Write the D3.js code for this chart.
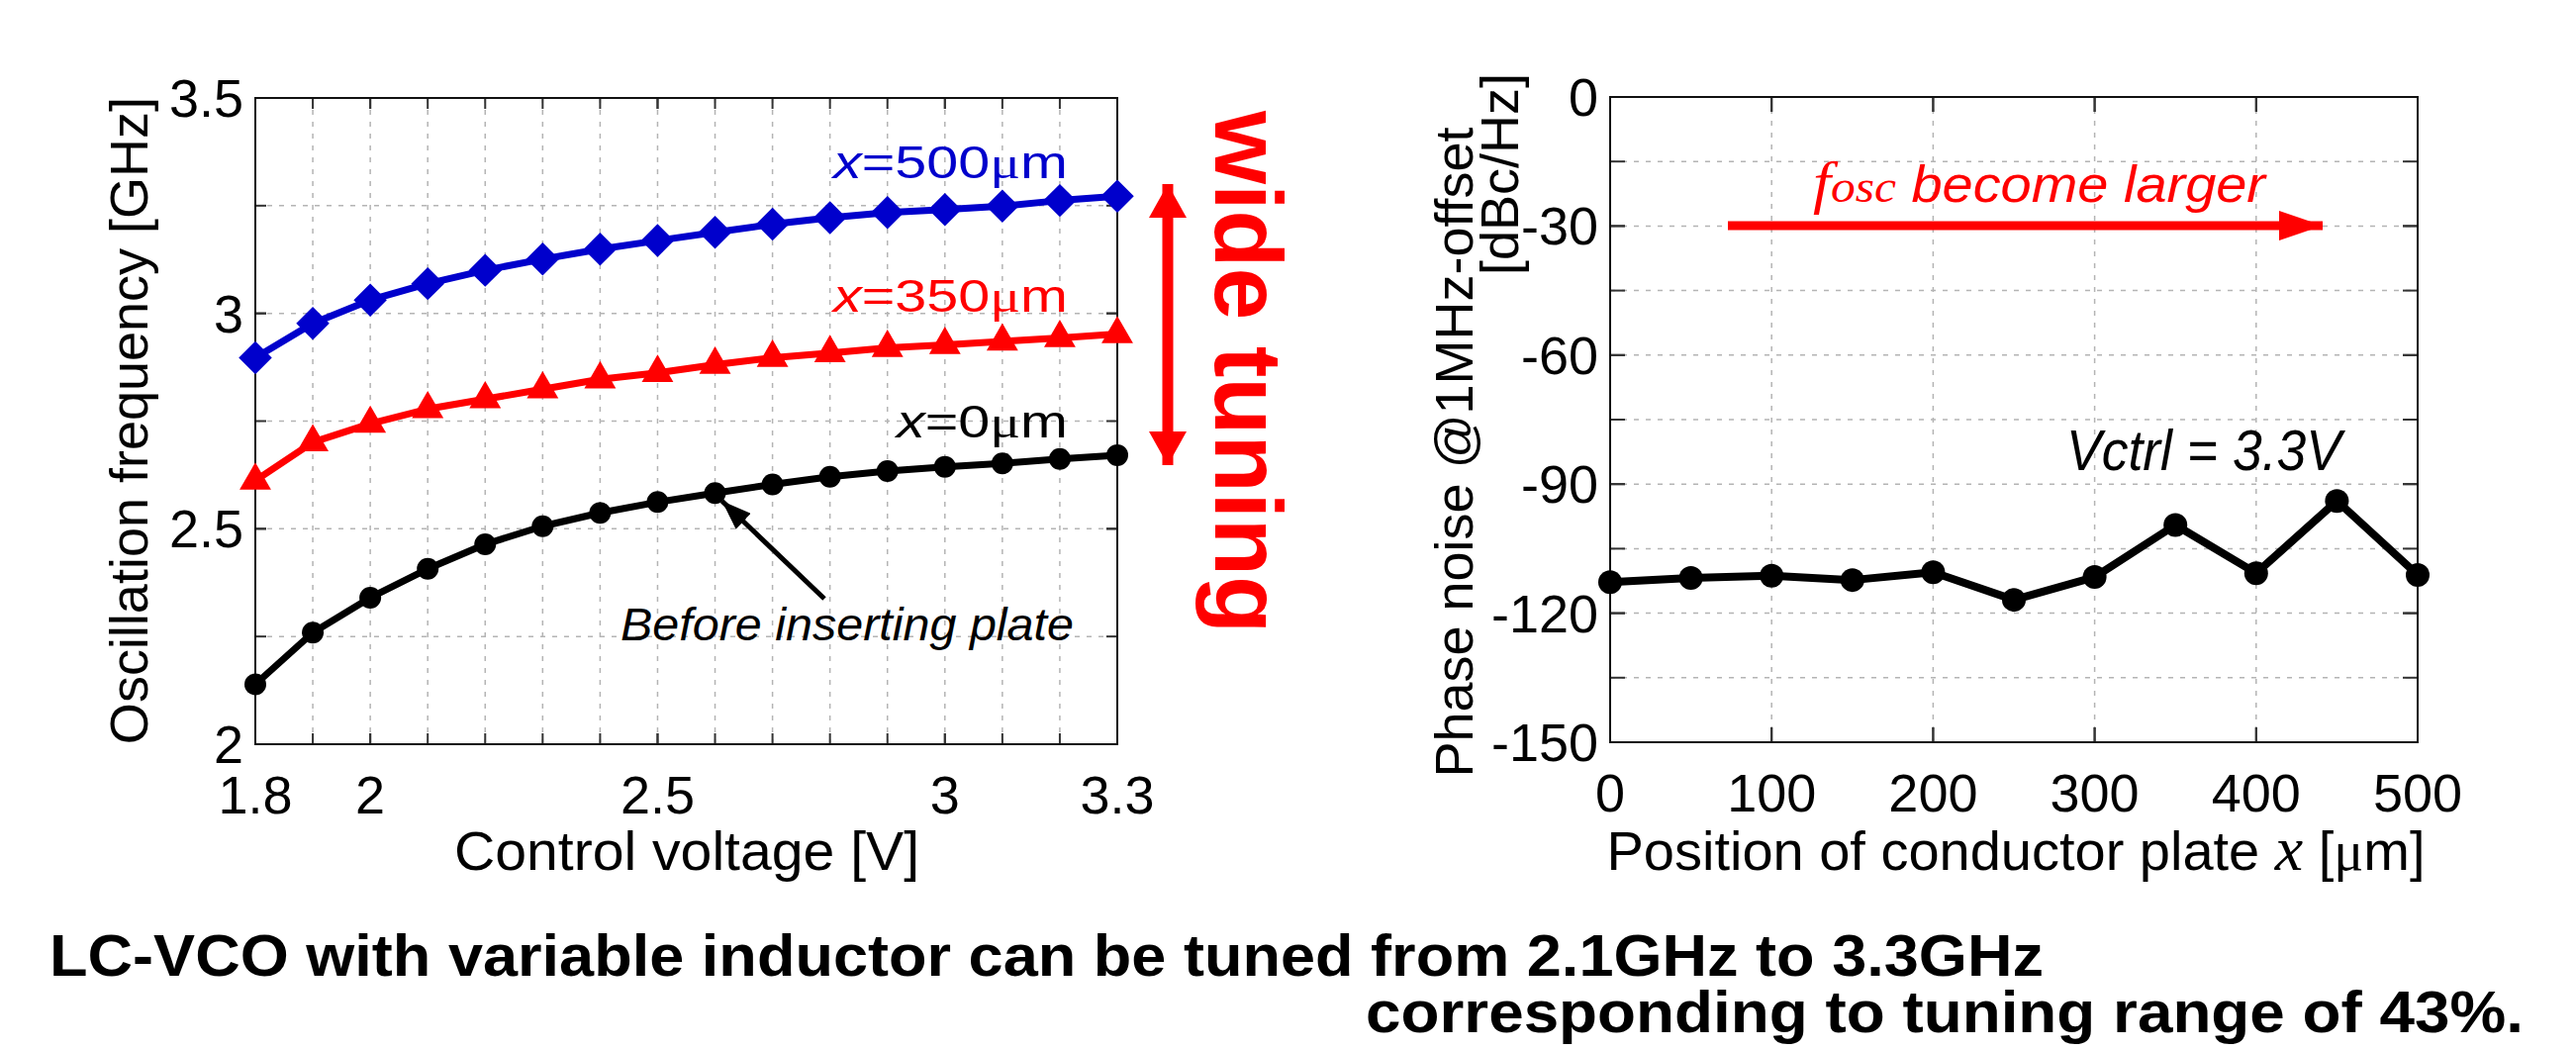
<!DOCTYPE html>
<html>
<head>
<meta charset="utf-8">
<script src="https://cdn.jsdelivr.net/npm/d3@7"></script>
<style>
  html, body { margin: 0; padding: 0; background: #fff; }
  svg { display: block; font-family: "Liberation Sans", Arial, sans-serif; }
</style>
</head>
<body>
<div id="chart"></div>
<script>
// Data
const voltage = [1.8, 1.9, 2.0, 2.1, 2.2, 2.3, 2.4, 2.5, 2.6, 2.7, 2.8, 2.9, 3.0, 3.1, 3.2, 3.3];
const freqX0 = [2.139, 2.259, 2.340, 2.407, 2.464, 2.506, 2.537, 2.562, 2.583, 2.603, 2.621, 2.634, 2.644, 2.652, 2.662, 2.671];
const freqX350 = [2.612, 2.701, 2.744, 2.778, 2.801, 2.824, 2.847, 2.862, 2.881, 2.897, 2.908, 2.920, 2.927, 2.935, 2.943, 2.952];
const freqX500 = [2.897, 2.977, 3.031, 3.069, 3.100, 3.126, 3.149, 3.169, 3.188, 3.207, 3.222, 3.234, 3.241, 3.249, 3.262, 3.272];

const plateX = [0, 50, 100, 150, 200, 250, 300, 350, 400, 450, 500];
const phaseNoise = [-112.8, -111.8, -111.3, -112.3, -110.5, -116.9, -111.6, -99.5, -110.7, -93.9, -111.1];

const leftXTicks = [1.8, 2, 2.5, 3, 3.3];
const leftYTicks = [2, 2.5, 3, 3.5];
const rightXTicks = [0, 100, 200, 300, 400, 500];
const rightYTicks = [0, -30, -60, -90, -120, -150];

const COLORS = {
  black: "#000000",
  red: "#ff0000",
  blue: "#0000cc",
  grid: "#b4b4b4",
};
const TICK_FONT = 54;
const WIDTH = 2603, HEIGHT = 1061;

const svg = d3.select("#chart").append("svg")
  .attr("width", WIDTH)
  .attr("height", HEIGHT);
svg.append("rect").attr("width", WIDTH).attr("height", HEIGHT).attr("fill", "#fff");

// arrow markers
const defs = svg.append("defs");
function arrowMarker(id, color, w, h) {
  defs.append("marker")
    .attr("id", id)
    .attr("viewBox", `0 0 ${w} ${h}`)
    .attr("refX", w).attr("refY", h / 2)
    .attr("markerUnits", "userSpaceOnUse")
    .attr("markerWidth", w).attr("markerHeight", h)
    .attr("orient", "auto-start-reverse")
    .append("path")
    .attr("d", `M0,0L${w},${h / 2}L0,${h}Z`)
    .attr("fill", color);
}
arrowMarker("headRed", COLORS.red, 34, 38);
arrowMarker("headRedSmall", COLORS.red, 44, 30);
arrowMarker("headBlack", COLORS.black, 30, 22);

// Draws a MATLAB style boxed frame: grid, inward ticks all round, labels
function drawFrame(g, x, y, gridX, gridY, tickX, tickY, fmtX, fmtY, tickLen) {
  const [x0, x1] = x.range();
  const [y0, y1] = y.range();

  g.append("g").selectAll("line").data(gridX).join("line")
    .attr("x1", (d) => x(d)).attr("x2", (d) => x(d))
    .attr("y1", y1).attr("y2", y0)
    .attr("stroke", COLORS.grid).attr("stroke-width", 1.5)
    .attr("stroke-dasharray", "5,7");
  g.append("g").selectAll("line").data(gridY).join("line")
    .attr("x1", x0).attr("x2", x1)
    .attr("y1", (d) => y(d)).attr("y2", (d) => y(d))
    .attr("stroke", COLORS.grid).attr("stroke-width", 1.5)
    .attr("stroke-dasharray", "5,7");

  const ticks = g.append("g").attr("stroke", "#333").attr("stroke-width", 2);
  gridX.concat(tickX).forEach((d) => {
    ticks.append("line").attr("x1", x(d)).attr("x2", x(d)).attr("y1", y0).attr("y2", y0 - tickLen);
    ticks.append("line").attr("x1", x(d)).attr("x2", x(d)).attr("y1", y1).attr("y2", y1 + tickLen);
  });
  gridY.concat(tickY).forEach((d) => {
    ticks.append("line").attr("y1", y(d)).attr("y2", y(d)).attr("x1", x0).attr("x2", x0 + tickLen);
    ticks.append("line").attr("y1", y(d)).attr("y2", y(d)).attr("x1", x1).attr("x2", x1 - tickLen);
  });

  g.append("rect")
    .attr("x", x0).attr("y", y1)
    .attr("width", x1 - x0).attr("height", y0 - y1)
    .attr("fill", "none").attr("stroke", "#111").attr("stroke-width", 2);

  // tick labels
  g.append("g").selectAll("text").data(tickX).join("text")
    .attr("x", (d) => x(d)).attr("y", y0 + 70)
    .attr("text-anchor", "middle")
    .attr("font-size", TICK_FONT)
    .text(fmtX);
  g.append("g").selectAll("text").data(tickY).join("text")
    .attr("x", x0 - 12).attr("y", (d) => y(d) + 19)
    .attr("text-anchor", "end")
    .attr("font-size", TICK_FONT)
    .text(fmtY);
}

// ---------------- Left: oscillation frequency ----------------
const xV = d3.scaleLinear().domain([1.8, 3.3]).range([258, 1129]);
const yF = d3.scaleLinear().domain([2, 3.5]).range([752, 99]);
const left = svg.append("g");

drawFrame(left, xV, yF,
  d3.range(19, 33).map((d) => d / 10),
  [2.25, 2.5, 2.75, 3, 3.25],
  leftXTicks, leftYTicks,
  (d) => d3.format("")(d), (d) => d3.format("")(d), 11);

const freqLine = d3.line().x((d) => xV(d[0])).y((d) => yF(d[1]));
const seriesLeft = [
  { name: "x0", vals: freqX0, color: COLORS.black, symbol: d3.symbolCircle, size: 380, rot: 0 },
  { name: "x350", vals: freqX350, color: COLORS.red, symbol: d3.symbolTriangle, size: 440, rot: 0 },
  { name: "x500", vals: freqX500, color: COLORS.blue, symbol: d3.symbolSquare, size: 560, rot: 45 },
];
seriesLeft.forEach((s) => {
  const pts = voltage.map((v, i) => [v, s.vals[i]]);
  left.append("path")
    .attr("d", freqLine(pts))
    .attr("fill", "none")
    .attr("stroke", s.color)
    .attr("stroke-width", 7)
    .attr("stroke-linejoin", "round");
  left.append("g").selectAll("path").data(pts).join("path")
    .attr("transform", (d) => `translate(${xV(d[0])},${yF(d[1])}) rotate(${s.rot})`)
    .attr("d", d3.symbol().type(s.symbol).size(s.size))
    .attr("fill", s.color);
});

// series labels
function seriesLabel(g, xRight, baseline, color, value, len) {
  const t = g.append("text")
    .attr("x", xRight).attr("y", baseline)
    .attr("text-anchor", "end")
    .attr("font-size", 46)
    .attr("fill", color)
    .attr("textLength", len)
    .attr("lengthAdjust", "spacingAndGlyphs");
  t.append("tspan").attr("font-style", "italic").text("x");
  t.append("tspan").text("=" + value);
  t.append("tspan").attr("font-family", "Liberation Serif, serif").text("μ");
  t.append("tspan").text("m");
}
seriesLabel(left, 1079, 180, COLORS.blue, "500", 237);
seriesLabel(left, 1079, 315, COLORS.red, "350", 237);
seriesLabel(left, 1079, 442, COLORS.black, "0", 173);

// annotation: before inserting plate
left.append("line")
  .attr("x1", 833).attr("y1", 605)
  .attr("x2", xV(2.6) + 7).attr("y2", yF(freqX0[8]) + 8)
  .attr("stroke", COLORS.black).attr("stroke-width", 5)
  .attr("marker-end", "url(#headBlack)");
left.append("text")
  .attr("x", 627).attr("y", 647)
  .attr("font-size", 46).attr("font-style", "italic")
  .attr("textLength", 458).attr("lengthAdjust", "spacingAndGlyphs")
  .text("Before inserting plate");

// wide tuning double arrow
left.append("line")
  .attr("x1", 1180).attr("x2", 1180)
  .attr("y1", 186).attr("y2", 470)
  .attr("stroke", COLORS.red).attr("stroke-width", 11)
  .attr("marker-start", "url(#headRed)")
  .attr("marker-end", "url(#headRed)");
left.append("text")
  .attr("transform", "translate(1228,112) rotate(90)")
  .attr("font-size", 96).attr("font-weight", "bold")
  .attr("fill", COLORS.red)
  .attr("textLength", 528).attr("lengthAdjust", "spacingAndGlyphs")
  .text("wide tuning");

// axis titles
left.append("text")
  .attr("x", 694).attr("y", 879)
  .attr("text-anchor", "middle").attr("font-size", 56)
  .attr("textLength", 470).attr("lengthAdjust", "spacingAndGlyphs")
  .text("Control voltage [V]");
left.append("text")
  .attr("transform", "translate(149,425) rotate(-90)")
  .attr("text-anchor", "middle").attr("font-size", 54)
  .text("Oscillation frequency [GHz]");

// ---------------- Right: phase noise ----------------
const xP = d3.scaleLinear().domain([0, 500]).range([1627, 2443]);
const yP = d3.scaleLinear().domain([-150, 0]).range([750, 98]);
const right = svg.append("g");

drawFrame(right, xP, yP,
  [100, 200, 300, 400],
  d3.range(-135, 0, 15),
  rightXTicks, rightYTicks,
  (d) => d, (d) => d, 15);

const pnPts = plateX.map((p, i) => [p, phaseNoise[i]]);
right.append("path")
  .attr("d", d3.line().x((d) => xP(d[0])).y((d) => yP(d[1]))(pnPts))
  .attr("fill", "none")
  .attr("stroke", COLORS.black)
  .attr("stroke-width", 8)
  .attr("stroke-linejoin", "round");
right.append("g").selectAll("circle").data(pnPts).join("circle")
  .attr("cx", (d) => xP(d[0])).attr("cy", (d) => yP(d[1]))
  .attr("r", 12)
  .attr("fill", COLORS.black);

right.append("text")
  .attr("x", 2088).attr("y", 475)
  .attr("font-size", 58).attr("font-style", "italic")
  .attr("textLength", 278).attr("lengthAdjust", "spacingAndGlyphs")
  .text("Vctrl = 3.3V");

// f_osc arrow
right.append("line")
  .attr("x1", 1746).attr("x2", 2347)
  .attr("y1", 228).attr("y2", 228)
  .attr("stroke", COLORS.red).attr("stroke-width", 9)
  .attr("marker-end", "url(#headRedSmall)");
const fosc = right.append("text")
  .attr("x", 1832).attr("y", 204)
  .attr("font-size", 52).attr("font-style", "italic")
  .attr("fill", COLORS.red)
  .attr("textLength", 457).attr("lengthAdjust", "spacingAndGlyphs");
fosc.append("tspan").attr("font-family", "Liberation Serif, serif").attr("font-size", 60).text("f");
fosc.append("tspan").attr("font-family", "Liberation Serif, serif").attr("font-size", 46).text("osc");
fosc.append("tspan").text(" become larger");

// axis titles
const xTitle = right.append("text")
  .attr("x", 2037).attr("y", 879)
  .attr("text-anchor", "middle").attr("font-size", 56)
  .attr("textLength", 827).attr("lengthAdjust", "spacingAndGlyphs");
xTitle.append("tspan").text("Position of conductor plate ");
xTitle.append("tspan").attr("font-family", "Liberation Serif, serif").attr("font-style", "italic").attr("font-size", 64).text("x");
xTitle.append("tspan").text(" [");
xTitle.append("tspan").attr("font-family", "Liberation Serif, serif").text("μ");
xTitle.append("tspan").text("m]");

right.append("text")
  .attr("transform", "translate(1488,457) rotate(-90)")
  .attr("text-anchor", "middle").attr("font-size", 54)
  .text("Phase noise @1MHz-offset");
right.append("text")
  .attr("transform", "translate(1534,176) rotate(-90)")
  .attr("text-anchor", "middle").attr("font-size", 54)
  .text("[dBc/Hz]");

// ---------------- Caption ----------------
svg.append("text")
  .attr("x", 50).attr("y", 986)
  .attr("font-size", 60).attr("font-weight", "bold")
  .attr("textLength", 2015).attr("lengthAdjust", "spacingAndGlyphs")
  .text("LC-VCO with variable inductor can be tuned from 2.1GHz to 3.3GHz");
svg.append("text")
  .attr("x", 1380).attr("y", 1043)
  .attr("font-size", 60).attr("font-weight", "bold")
  .attr("textLength", 1170).attr("lengthAdjust", "spacingAndGlyphs")
  .text("corresponding to tuning range of 43%.");
</script>
</body>
</html>
